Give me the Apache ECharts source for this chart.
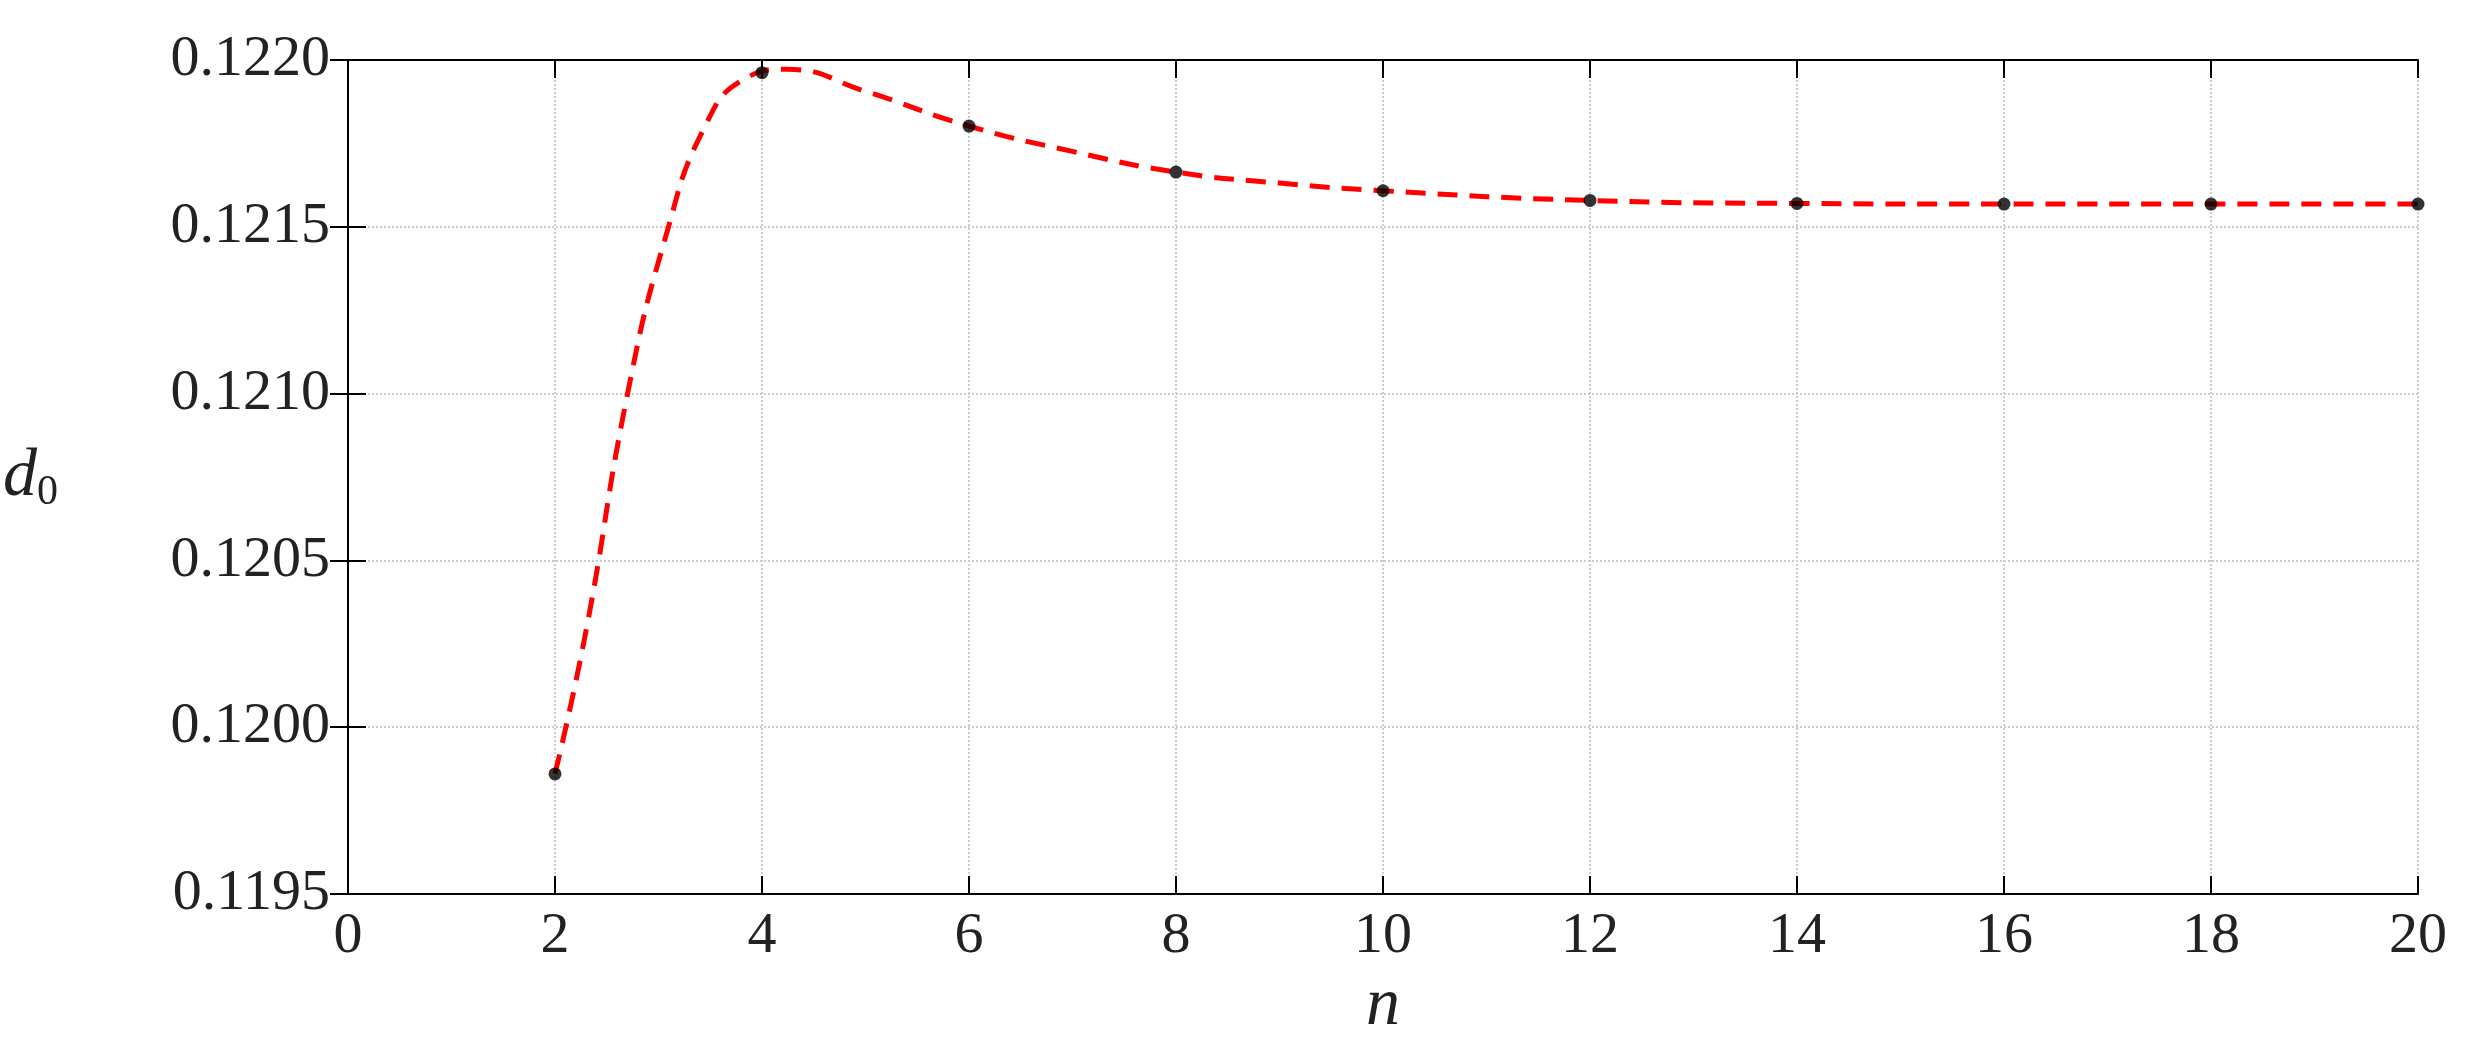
<!DOCTYPE html><html><head><meta charset="utf-8"><script src="https://cdn.jsdelivr.net/npm/echarts@6/dist/echarts.min.js"></script>
<style>html,body{margin:0;background:#fff}#c{width:2467px;height:1048px}</style></head><body><div id="c"></div><script>
const nPoints=[2,4,6,8,10,12,14,16,18,20];
const d0Points=[0.11986,0.121962,0.121802,0.121664,0.121608,0.121579,0.12157,0.121568,0.121568,0.121568];
const curveN=[2,2.3,2.7,3.07,3.45,3.83,4.24,5,6,7,8,9,10,12,14,16,18,20];
const curveD=[0.11986,0.120289,0.120998,0.121471,0.121802,0.121943,0.121972,0.121906,0.121802,0.121726,0.121664,0.121631,0.121608,0.121579,0.12157,0.121568,0.121568,0.121568];
const xTicks=[0,2,4,6,8,10,12,14,16,18,20];
const yTicks=['0.1195','0.1200','0.1205','0.1210','0.1215','0.1220'];
const F='Liberation Serif';
const ax={axisLine:{show:true,lineStyle:{color:'#000',width:2}},axisTick:{inside:true,length:18,lineStyle:{color:'#000',width:2}}};
const c=echarts.init(document.getElementById('c'));
c.setOption({animation:false,
grid:{left:344,right:49,top:60,bottom:154},
xAxis:[{type:'value',min:0,max:20,interval:2,...ax,
 axisLabel:{fontFamily:F,fontSize:58,color:'#222',margin:14},
 splitLine:{show:true,lineStyle:{type:'dotted',color:'#ccc',width:2}},
 name:'n',nameLocation:'middle',nameGap:78,nameTextStyle:{fontFamily:F,fontSize:68,fontStyle:'italic',color:'#222'}},
 {type:'value',position:'top',min:0,max:20,interval:2,...ax,axisLabel:{show:false},splitLine:{show:false}}],
yAxis:[{type:'value',min:0.1195,max:0.1220,interval:0.0005,...ax,
 axisLabel:{fontFamily:F,fontSize:58,color:'#222',margin:18,formatter:v=>v.toFixed(4)},
 splitLine:{show:true,lineStyle:{type:'dotted',color:'#ccc',width:2}},
 name:'{d|d}{s|0}',nameLocation:'middle',nameGap:290,nameRotate:0,
 nameTextStyle:{rich:{d:{fontFamily:F,fontSize:68,fontStyle:'italic',color:'#222'},s:{fontFamily:F,fontSize:42,color:'#222',verticalAlign:'bottom',padding:[32,0,0,0]}}}},
 {type:'value',position:'right',min:0.1195,max:0.1220,interval:0.0005,...ax,axisLabel:{show:false},splitLine:{show:false}}],
series:[{type:'line',data:curveN.map((n,i)=>[n,curveD[i]]),smooth:0.5,showSymbol:false,lineStyle:{color:'#f00',width:5,type:[20,12]},z:2},
{type:'scatter',data:nPoints.map((n,i)=>[n,d0Points[i]]),symbolSize:13,itemStyle:{color:'#000'},z:3}]});
</script></body></html>
